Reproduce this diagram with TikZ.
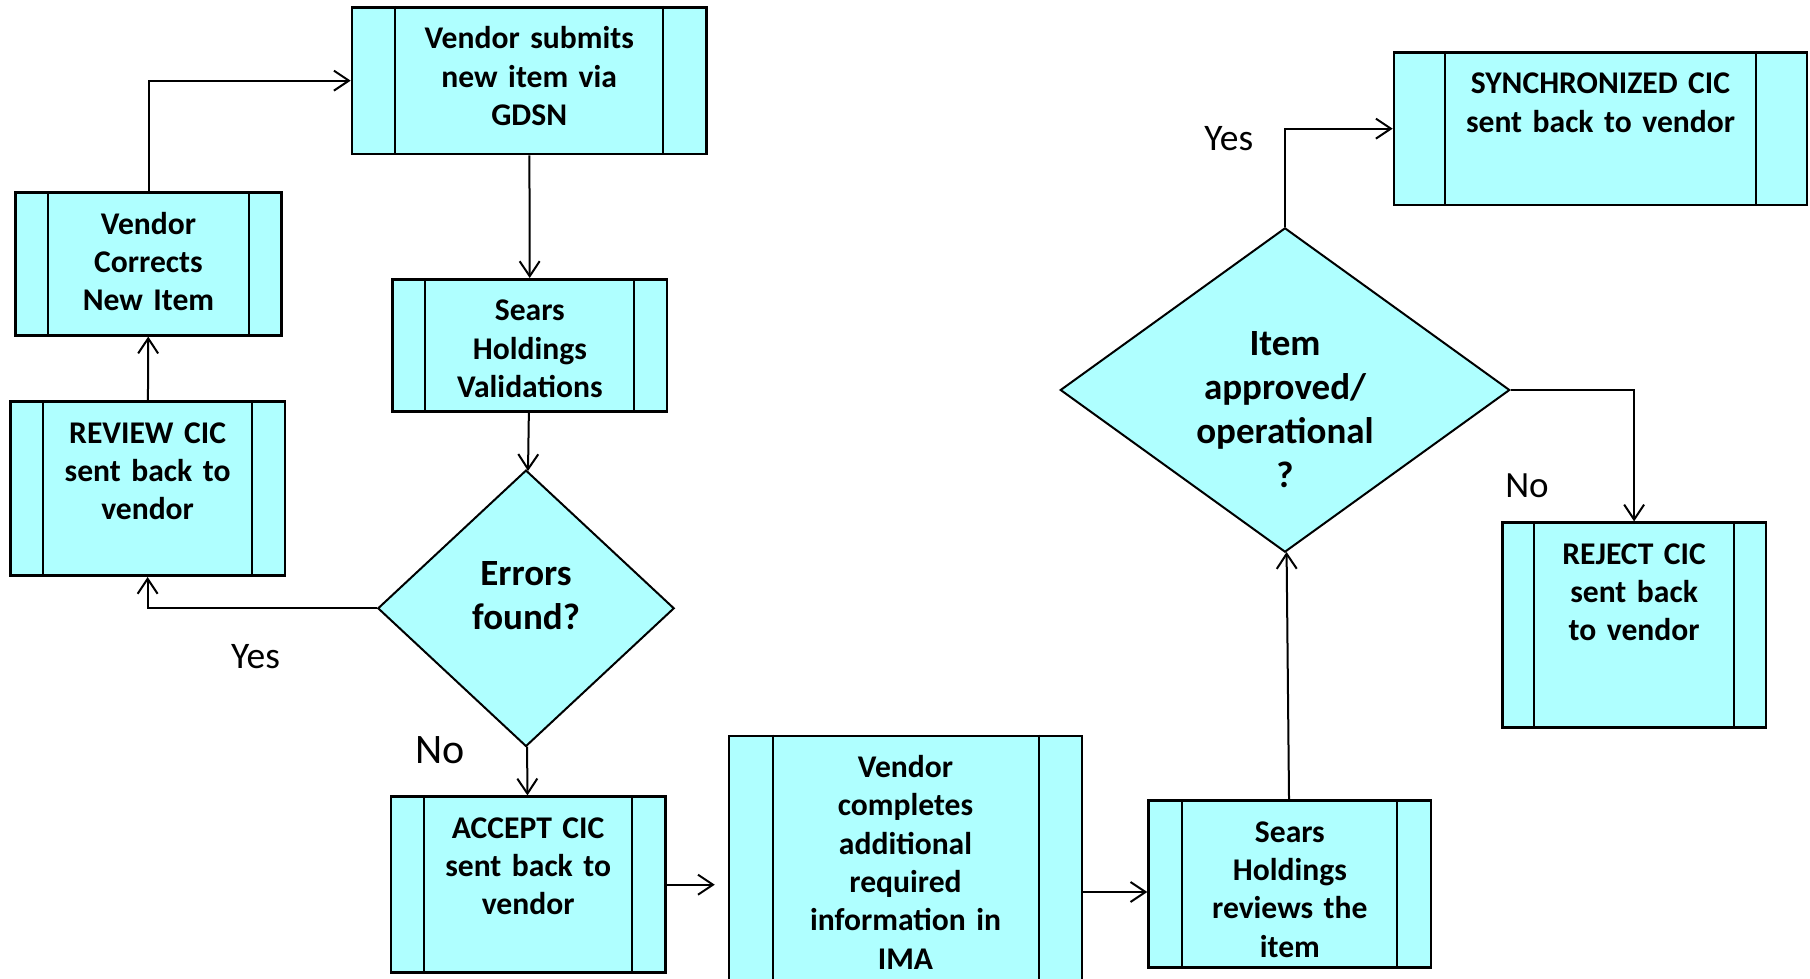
\documentclass[tikz,border=0pt]{standalone}
\usepackage{fontspec}
\setmainfont{Carlito}
\usetikzlibrary{arrows.meta,shapes.geometric}
\definecolor{cic}{RGB}{175,255,255}

\begin{document}
\begin{tikzpicture}[x=1pt,y=-1pt,line width=2pt,>={Straight Barb[length=15pt,width=20pt]},
    proc/.style={draw=black,line width=2.6pt,fill=cic,inner sep=0pt,align=center,text height=41.5pt,font=\fontsize{31.6}{38.3}\selectfont\bfseries},
    decision/.style={draw=black,diamond,line width=2pt,fill=cic,inner sep=0pt,align=center,text height=0pt,font=\fontsize{37}{44.3}\selectfont\bfseries},
    lbl/.style={anchor=base,inner sep=0pt,font=\fontsize{37.5}{42}\selectfont}]
        \clip (0,0) rectangle (1810,979);

        \node[proc,minimum width=354.5pt,text width=265pt,text depth=105.2pt] (1) at (529.25,80.65) {Vendor submits\\new item via\\GDSN};
        \node[proc,minimum width=274.3pt,text width=206pt,text depth=90.5pt] (2) at (529.85,345.3) {Sears\\Holdings\\Validations};
        \node[decision,minimum width=296.4pt,minimum height=276.4pt,text width=180pt,text depth=46.6pt] (3) at (526,608.3) {Errors\\found?};
        \node[proc,minimum width=274.3pt,text width=206pt,text depth=134.5pt] (4) at (528.15,884.7) {ACCEPT CIC\\sent back to\\vendor};
        \node[proc,minimum width=352.8pt,text width=263pt,text depth=270.5pt] (5) at (905.5,892) {Vendor\\completes\\additional\\required\\information in\\IMA};
        \node[proc,minimum width=282.5pt,text width=212pt,text depth=125.1pt] (6) at (1289.85,884) {Sears\\Holdings\\reviews the\\item};
        \node[decision,minimum width=449.5pt,minimum height=324.3pt,text width=220pt,text depth=70pt] (7) at (1285,390) {Item\\approved/\\operational\\?};
        \node[proc,minimum width=413pt,text width=309pt,text depth=111.2pt] (8) at (1600.5,128.65) {SYNCHRONIZED CIC\\sent back to vendor};
        \node[proc,minimum width=263.4pt,text width=197pt,text depth=163.1pt] (9) at (1634.1,625) {REJECT CIC\\sent back\\to vendor};
        \node[proc,minimum width=274.4pt,text width=206pt,text depth=132.5pt] (10) at (147.6,488.7) {REVIEW CIC\\sent back to\\vendor};
        \node[proc,minimum width=265.6pt,text width=197pt,text depth=101.1pt] (11) at (148.5,264) {Vendor\\Corrects\\New Item};

        \foreach \n/\b in {1/44.5,2/34,4/34.3,5/44.7,6/35,8/52,9/33,10/34,11/34}
            \draw ([xshift=\b]\n.north west) -- ([xshift=\b]\n.south west)
                  ([xshift=-\b]\n.north east) -- ([xshift=-\b]\n.south east);

        \node[lbl] (12) at (255.5,668.3) {Yes};
        \node[lbl,font=\fontsize{42}{46}\selectfont] (13) at (440,763.3) {No};
        \node[lbl] (14) at (1228.8,150) {Yes};
        \node[lbl,font=\fontsize{37}{42}\selectfont] (15) at (1527,497.3) {No};

        \path [->] (1) edge (2);
        \path [->] (2) edge (3);
        \path [->] (3) edge (4);
        \path [->] (6) edge (7);
        \path [->] (10) edge (11);
        \draw [->,shorten >=13pt] (4.east) -- (4.east -| 5.west);
        \draw [->] (5.east) -- (5.east -| 6.west);
        \draw [->] (7.north) |- (8.west);
        \draw [->] (7.east) -| (9.north);
        \draw [->] (3.west) -| (10.south);
        \draw [->] (11.north) |- (1.west);
    \end{tikzpicture}
\end{document}
